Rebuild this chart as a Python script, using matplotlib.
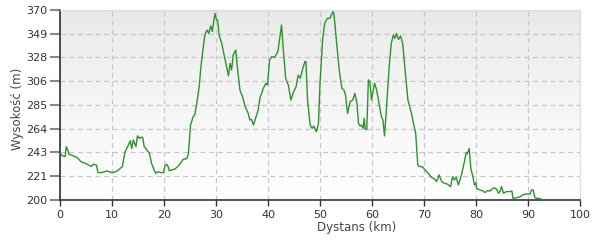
import numpy as np
import matplotlib
matplotlib.use('Agg')
import matplotlib.pyplot as plt

# Elevation profile (km, m)
dist_km = [0, 0.5, 1, 1.2, 1.5, 1.7, 2.5, 3.3, 4, 5, 6, 6.4, 7, 7.3, 8, 9, 10, 10.5, 11, 12,
           12.5, 13, 13.5, 13.8, 14.1, 14.6, 14.9, 15.3, 15.5, 15.9, 16.2, 16.7, 17.2, 17.6, 18.1,
           18.4, 18.9, 19.4, 19.9, 20.2, 20.5, 20.8, 21, 21.5, 22.1, 22.6, 23.1, 23.7, 24.4, 24.7,
           25.1, 25.6, 25.9, 26.2, 26.5, 26.8, 27.1, 27.5, 27.8, 28.1, 28.3, 28.6, 29, 29.3, 29.5,
           29.8, 30.1, 30.3, 30.6, 31.1, 31.7, 32.4, 32.7, 33, 33.3, 33.8, 34.1, 34.6, 35.1, 35.6,
           36.2, 36.5, 36.8, 37.2, 37.7, 38.1, 38.5, 38.8, 39.1, 39.6, 39.9, 40.3, 40.7, 41.3, 41.7,
           41.9, 42.3, 42.6, 42.9, 43.4, 43.9, 44.4, 44.8, 45.4, 45.8, 46.2, 46.7, 47.1, 47.3, 47.6,
           48.1, 48.5, 48.8, 49.3, 49.7, 50, 50.5, 50.9, 51.4, 51.9, 52.2, 52.5, 52.7, 53.2, 53.7,
           54.2, 54.6, 54.9, 55.3, 55.8, 56.3, 56.7, 57.1, 57.4, 57.7, 58, 58.3, 58.5, 58.7, 59,
           59.3, 59.6, 59.9, 60.5, 60.9, 61.4, 61.8, 62.1, 62.4, 62.8, 63.3, 63.7, 64.1, 64.4, 64.7,
           65.1, 65.5, 65.9, 66.3, 66.9, 67.6, 67.9, 68.4, 68.8, 69.2, 69.7, 70.2, 70.8, 71.4, 72.1,
           72.4, 72.9, 73.4, 74, 74.6, 75.1, 75.5, 75.8, 76.2, 76.6, 77.2, 77.7, 78.1, 78.3, 78.7,
           79, 79.4, 79.7, 80, 80.1, 80.8, 81.4, 81.7, 82.2, 82.7, 83, 83.5, 84, 84.3, 84.6, 84.9,
           85.3, 85.8, 86.4, 86.9, 87.1, 87.8, 88.5, 89.1, 89.7, 90.4, 90.7, 91, 91.3, 91.6, 92.1,
           92.6, 92.8]
elev_m = [242, 239.4, 239, 247.7, 244.7, 241, 239.7, 238, 234.3, 232.5, 230, 232, 231.3, 224.5,
          224.5, 226, 224.5, 225, 226, 230, 243, 247.7, 253, 246, 253.7, 247.7, 257.3, 255, 256,
          256, 247.7, 244.7, 241.8, 232.8, 226.8, 223.9, 225.3, 224.5, 224.5, 230.7, 232, 229.8,
          226.2, 226.8, 227.7, 229.8, 232.5, 236.4, 237, 241.8, 267, 274.6, 276, 283.5, 292.5, 303,
          319.3, 334.2, 346, 350.6, 352, 349, 355.7, 350.6, 358, 367, 361, 361, 347.6, 340, 326.8,
          311, 322.3, 316.3, 329.7, 334.2, 319.3, 298.4, 292.5, 283.5, 277.5, 271.6, 272.2, 267.1,
          274.6, 280.5, 292.5, 295.4, 300, 304.4, 303, 325.3, 328.2, 327.6, 331.2, 332.7, 346.1,
          356.6, 337.2, 308.9, 302.9, 289.5, 295.4, 301.4, 311.8, 308.9, 317.8, 323.8, 323.8,
          289.5, 267.1, 264.1, 266.2, 261.1, 268.6, 304.4, 343.2, 358, 362.5, 362.5, 365.5, 368.5,
          365.5, 340.2, 316.3, 300, 298.4, 294, 277.5, 288, 289.5, 295.4, 286.5, 268.6, 266.2, 267,
          264.1, 273, 263.2, 263.2, 307.4, 305.9, 289.5, 304.4, 298.4, 285, 274.6, 271.6, 257.3,
          283.5, 319.3, 340, 347.6, 344.6, 349, 343.7, 346.7, 340, 319.3, 289.5, 277.5, 270, 259.6,
          231.3, 229.8, 229.8, 226.8, 223.9, 220.3, 218.5, 216.4, 222.4, 216.4, 214.9, 214, 211.9,
          220.9, 217.9, 220.3, 213.4, 222.4, 232.8, 242.3, 241, 246.2, 228.3, 220.9, 213.4, 215.5,
          210.4, 208.9, 208, 206.6, 208.4, 208, 209.5, 211, 209.5, 206, 207.5, 212, 206, 207.5,
          207.5, 208, 201.5, 202, 203, 204.8, 205.4, 205.4, 209, 209, 202.4, 201.5, 201.5, 200.6,
          200]

y_ticks = [200 + 21.25 * i for i in range(9)]
y_labels = ['200', '221', '243', '264', '285', '306', '328', '349', '370']
x_ticks = list(range(0, 101, 10))

fig = plt.figure(figsize=(6, 2.4), dpi=100)
ax = fig.add_axes([0.1, 0.1667, 0.8667, 0.7917])

# gray-to-white gradient background (gray at the top)
grad = np.linspace(0, 1, 256).reshape(-1, 1) ** 0.8
top = np.array([0.91, 0.91, 0.91])
bot = np.array([1.0, 1.0, 1.0])
img = top + (bot - top) * grad[:, :, None]
ax.imshow(img, extent=[0, 100, 200, 370], origin='upper', aspect='auto', zorder=0)

ax.plot(dist_km, elev_m, color='#2e922e', linewidth=1.0, zorder=3)

ax.set_xlim(0, 100)
ax.set_ylim(200, 370)
ax.set_xticks(x_ticks)
ax.set_yticks(y_ticks)
ax.set_yticklabels(y_labels)
ax.grid(True, color='#c8c8c8', linestyle=(0, (4, 3)), linewidth=0.9, zorder=1)

for s in ['top', 'right']:
    ax.spines[s].set_color('#dddddd')
for s in ['left', 'bottom']:
    ax.spines[s].set_color('#333333')
    ax.spines[s].set_linewidth(1.2)

ax.tick_params(axis='y', length=7, color='#888888', width=1.5, labelsize=8, labelcolor='#333333', pad=2)
ax.tick_params(axis='x', length=4, color='#333333', width=1, labelsize=8, labelcolor='#333333', pad=3)

ax.set_xlabel('Dystans (km)', fontsize=8.5, color='#444444', labelpad=0)
ax.xaxis.set_label_coords(0.571, -0.112)
ax.set_ylabel('Wysokość (m)', fontsize=8.5, color='#444444')
ax.yaxis.set_label_coords(-0.069, 0.48)

fig.savefig('out.png', dpi=100)
